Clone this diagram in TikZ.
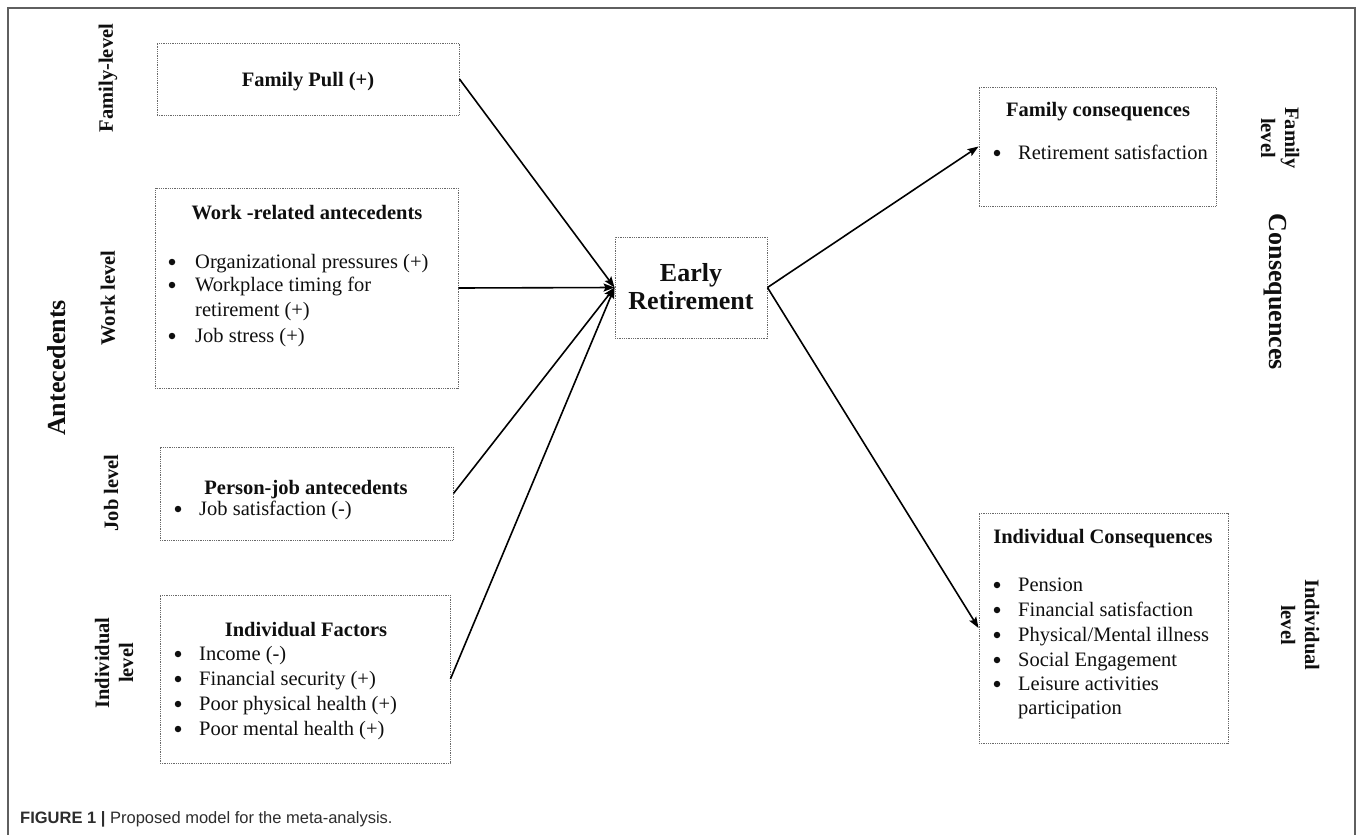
\documentclass[tikz,border=0pt]{standalone}
\usepackage{fontspec}
\setmainfont{Liberation Serif}
\newfontfamily\capfont{Liberation Sans}
\usetikzlibrary{arrows.meta}
\definecolor{framegray}{RGB}{95,95,95}
\definecolor{dotgray}{RGB}{105,105,105}
\definecolor{txt}{RGB}{15,15,15}
\definecolor{captxt}{RGB}{45,45,45}
\newcommand\bodyfont{\fontsize{20.5}{24}\selectfont}
\newcommand\headfont{\fontsize{20.5}{24}\selectfont\bfseries}
\newcommand\bigfont{\fontsize{26}{29}\selectfont\bfseries}
\begin{document}
\begin{tikzpicture}[x=1pt,y=-1pt,
  dotbox/.style={draw=dotgray, line width=0.9pt, dash pattern=on 0.9pt off 0.9pt, inner sep=0pt},
  head/.style={anchor=base, inner sep=0pt, font=\headfont, text=txt},
  item/.style={anchor=base west, inner sep=0pt, font=\bodyfont, text=txt},
  bul/.style={circle, fill=txt, inner sep=0pt, minimum size=6.5pt},
  side/.style={inner sep=0pt, font=\headfont, text=txt, align=center},
  bigside/.style={inner sep=0pt, font=\bigfont, text=txt},
  arr/.style={line width=1.6pt, black, -{Stealth[length=11pt,width=8pt,inset=2pt]}}]
\useasboundingbox (0,0) rectangle (1358,835);
% frame (open at bottom)
\draw[framegray, line width=2pt] (8,835) -- (8,8) -- (1355,8) -- (1355,835);

% boxes
\node[dotbox, minimum width=302pt, minimum height=72pt] (fp) at (308,79) {};
\node[dotbox, minimum width=303pt, minimum height=200pt] (work) at (306.5,288) {};
\node[dotbox, minimum width=293pt, minimum height=93pt] (pj) at (306.5,493.5) {};
\node[dotbox, minimum width=290pt, minimum height=168pt] (ind) at (305,679) {};
\node[dotbox, minimum width=152pt, minimum height=101pt] (er) at (691,287.5) {};
\node[dotbox, minimum width=237pt, minimum height=119pt] (fc) at (1097.5,146.5) {};
\node[dotbox, minimum width=249pt, minimum height=230pt] (ic) at (1103.5,628) {};

% Family pull
\node[head] (fpt) at (308,86) {Family Pull (+)};

% Work-related
\node[head] (wt) at (307,219) {Work -related antecedents};
\node[bul] (wb1) at (172,262) {};
\node[item] (w1) at (195,268) {Organizational pressures (+)};
\node[bul] (wb2) at (172,285) {};
\node[item] (w2) at (195,291) {Workplace timing for};
\node[item] (w3) at (195,316) {retirement (+)};
\node[bul] (wb4) at (172,336) {};
\node[item] (w4) at (195,342) {Job stress (+)};

% Person-job
\node[head] (pjt) at (306,494) {Person-job antecedents};
\node[bul] (pjb1) at (178,509) {};
\node[item] (pj1) at (199,515) {Job satisfaction (-)};

% Individual factors
\node[head] (indt) at (306,636) {Individual Factors};
\node[bul] (ib1) at (178,654) {};
\node[item] (i1) at (199,660) {Income (-)};
\node[bul] (ib2) at (178,679) {};
\node[item] (i2) at (199,685) {Financial security (+)};
\node[bul] (ib3) at (178,704) {};
\node[item] (i3) at (199,710) {Poor physical health (+)};
\node[bul] (ib4) at (178,729) {};
\node[item] (i4) at (199,735) {Poor mental health (+)};

% Early retirement
\node[inner sep=0pt, anchor=base, font=\bigfont, text=txt] (ert1) at (691,281) {Early};
\node[inner sep=0pt, anchor=base, font=\bigfont, text=txt] (ert2) at (691,309) {Retirement};

% Family consequences
\node[head] (fct) at (1098,116) {Family consequences};
\node[bul] (fcb1) at (997,153) {};
\node[item] (fc1) at (1018,159) {Retirement satisfaction};

% Individual consequences
\node[head] (ict) at (1103,543) {Individual Consequences};
\node[bul] (icb1) at (997,585) {};
\node[item] (ic1) at (1018,591) {Pension};
\node[bul] (icb2) at (997,610) {};
\node[item] (ic2) at (1018,616) {Financial satisfaction};
\node[bul] (icb3) at (997,635) {};
\node[item] (ic3) at (1018,641) {Physical/Mental illness};
\node[bul] (icb4) at (997,660) {};
\node[item] (ic4) at (1018,666) {Social Engagement};
\node[bul] (icb5) at (997,684) {};
\node[item] (ic5) at (1018,690) {Leisure activities};
\node[item] (ic6) at (1018,714) {participation};

% side labels left
\node[side, rotate=90] (lfam) at (108,78) {Family-level};
\node[side, rotate=90] (lwork) at (108,298) {Work level};
\node[side, rotate=90] (ljob) at (111,493) {Job level};
\node[side, rotate=90] (lind) at (114,663) {Individual\\level};
\node[bigside, rotate=90] (lant) at (57,368) {Antecedents};

% side labels right
\node[side, rotate=-90] (rfam) at (1280,138) {Family\\level};
\node[bigside, rotate=-90] (rcon) at (1275,292) {Consequences};
\node[side, rotate=-90] (rind) at (1300,625) {Individual\\level};

% connectors
\draw[arr] (fp.east) -- (er.west);
\draw[arr] (work.east) -- (er.west);
\draw[arr] (pj.east) -- (er.west);
\draw[arr] (ind.east) -- (er.west);
\draw[arr] (er.east) -- (fc.west);
\draw[arr] (er.east) -- (ic.west);

% caption
\node[anchor=base west, inner sep=0pt, font=\capfont\fontsize{16.5}{19}\selectfont, text=captxt] (cap) at (20,823)
  {{\bfseries FIGURE 1} {\bfseries |} Proposed model for the meta-analysis.};
\end{tikzpicture}
\end{document}
